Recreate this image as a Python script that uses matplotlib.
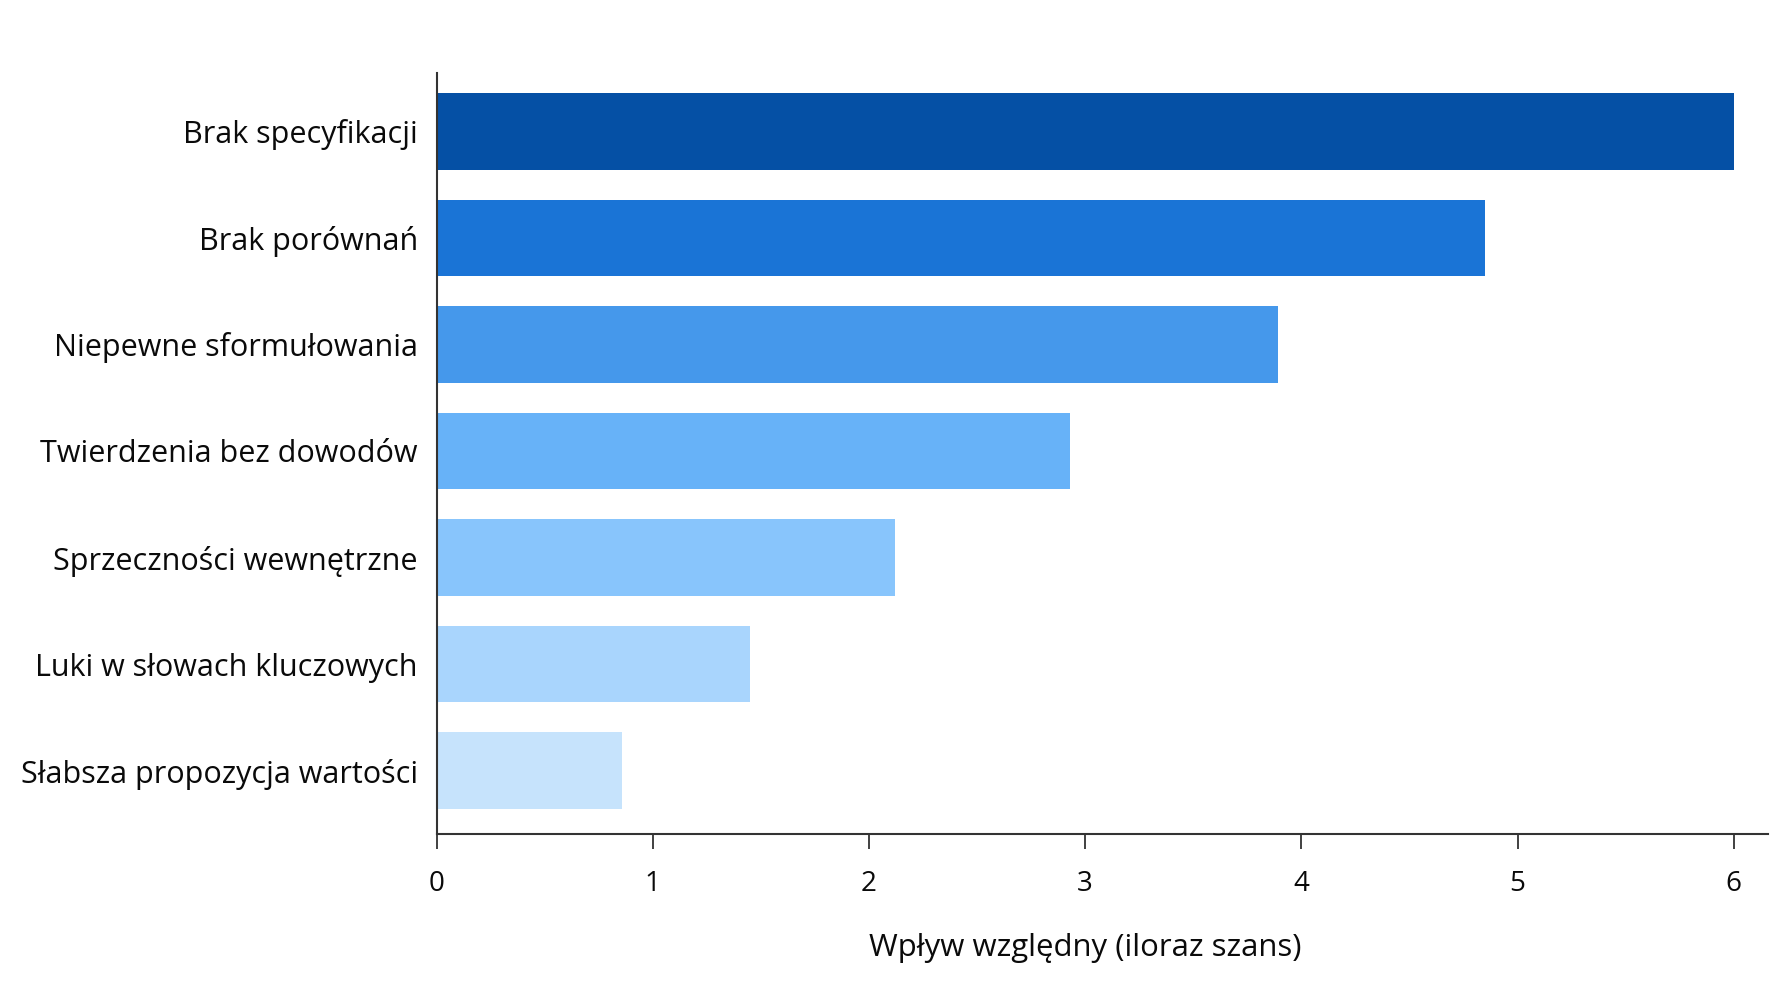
import matplotlib
matplotlib.use("Agg")
import matplotlib.pyplot as plt

categories = [
    "Brak specyfikacji",
    "Brak porównań",
    "Niepewne sformułowania",
    "Twierdzenia bez dowodów",
    "Sprzeczności wewnętrzne",
    "Luki w słowach kluczowych",
    "Słabsza propozycja wartości",
]
values = [6.0, 4.85, 3.89, 2.93, 2.12, 1.45, 0.86]
colors = ["#0550A5", "#1A74D6", "#4598EB", "#67B2F8", "#88C5FC", "#A9D5FD", "#C6E3FC"]
xticks = [0, 1, 2, 3, 4, 5, 6]
xlabel = "Wpływ względny (iloraz szans)"

plt.rcParams['font.family'] = ['Open Sans', 'DejaVu Sans']

fig = plt.figure(figsize=(17.92, 10.08), dpi=100)
ax = fig.add_axes([0.2436, 0.1726, 0.9866 - 0.2436, 0.9276 - 0.1726])

ypos = list(range(len(categories)))
ax.barh(ypos, values, height=0.72, color=colors)

xmax = 6.158
ax.set_ylim(len(categories) - 1 + 0.596, -0.549)
ax.set_xlim(0, xmax)
ax.set_yticks(ypos)
ax.set_yticklabels(categories, fontsize=22, color="#0a0a0a")
ax.set_xticks(xticks)
ax.set_xticklabels([str(t) for t in xticks], fontsize=20, color="#0a0a0a")
ax.tick_params(axis='y', length=0, pad=13.5)
ax.tick_params(axis='x', length=11, width=1.3, color="#333333", pad=15)
ax.set_xlabel(xlabel, fontsize=22.4, color="#0a0a0a")
ax.xaxis.set_label_coords(3 / xmax, -0.1498)
ax.xaxis.label.set_horizontalalignment('center')
ax.xaxis.label.set_verticalalignment('center')

for s in ["top", "right"]:
    ax.spines[s].set_visible(False)
for s in ["left", "bottom"]:
    ax.spines[s].set_color("#333333")
    ax.spines[s].set_linewidth(1.5)

fig.savefig("out.png", dpi=100, facecolor="white")
